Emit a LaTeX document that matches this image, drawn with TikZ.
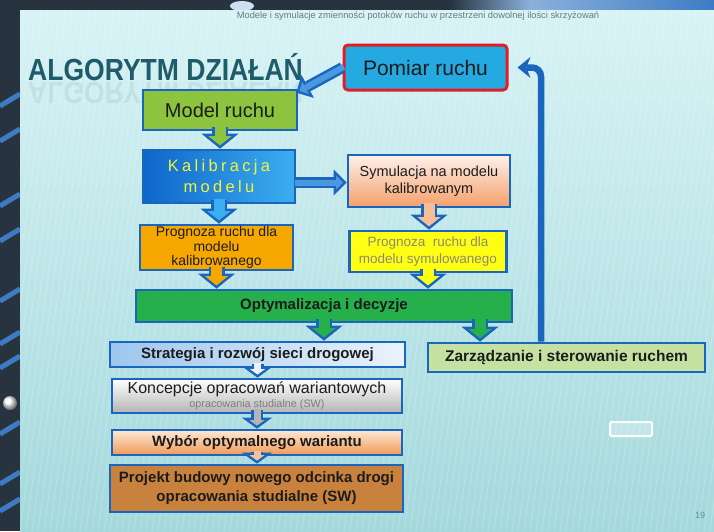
\documentclass[tikz,border=0pt]{standalone}
\usepackage{fontspec}
\setmainfont{Liberation Sans}
\newfontfamily\titlefont[FakeStretch=0.87]{Liberation Sans}
\usetikzlibrary{arrows.meta}

\definecolor{frame}{HTML}{27333F}
\definecolor{streak}{HTML}{3D7CC4}
\definecolor{slidetop}{HTML}{D8F3F5}
\definecolor{slidebot}{HTML}{A4D9DC}
\definecolor{boxblue}{HTML}{1A66BE}
\definecolor{ink}{HTML}{1C1C1C}
\definecolor{titleteal}{HTML}{1F5B6B}
\definecolor{headgray}{HTML}{687A80}
\definecolor{pomiarfill}{HTML}{25A9E1}
\definecolor{pomiarred}{HTML}{E01E26}
\definecolor{modelgreen}{HTML}{8CC43F}
\definecolor{kalA}{HTML}{0E66CA}
\definecolor{kalB}{HTML}{3CAEF0}
\definecolor{kaltext}{HTML}{F2F23C}
\definecolor{symtop}{HTML}{FDF0EA}
\definecolor{symbot}{HTML}{F5A06A}
\definecolor{progorange}{HTML}{F6A800}
\definecolor{progyellow}{HTML}{FFFF14}
\definecolor{proggray}{HTML}{8A8A6E}
\definecolor{optgreen}{HTML}{25B04B}
\definecolor{stratA}{HTML}{9EC6EE}
\definecolor{stratB}{HTML}{EAF3FB}
\definecolor{zarzgreen}{HTML}{C5E2A2}
\definecolor{konctop}{HTML}{FFFFFF}
\definecolor{koncbot}{HTML}{B4B4B4}
\definecolor{subgray}{HTML}{7E7E7E}
\definecolor{wybtop}{HTML}{FDE8D6}
\definecolor{wybbot}{HTML}{F09A55}
\definecolor{projbrown}{HTML}{C8823E}
\definecolor{pipeblue}{HTML}{4A98E0}

% outlined block arrow: blue body, coloured core
\newcommand\blockarrow[4][bigarrow]{%
  \draw[#1, draw=boxblue] #3 -- #4;
  \draw[#1fill, draw=#2] #3 -- #4;}

\begin{document}
\begin{tikzpicture}[x=1pt, y=-1pt,
    box/.style={draw=boxblue, line width=2.6pt, inner sep=0pt, align=center, text=ink},
    boldtext/.style={font=\fontsize{15}{19}\selectfont\bfseries},
    bigarrow/.style={line width=16pt, -{Triangle[length=15pt,width=37pt,line width=0pt]}},
    bigarrowfill/.style={line width=11pt, shorten >=3.3pt, shorten <=-1.5pt,
      -{Triangle[length=9.2pt,width=23pt,line width=0pt]}},
    smallarrow/.style={line width=12pt, -{Triangle[length=11pt,width=30pt,line width=0pt]}},
    smallarrowfill/.style={line width=7pt, shorten >=3.1pt, shorten <=-1.5pt,
      -{Triangle[length=5.4pt,width=14.8pt,line width=0pt]}},
    flatarrow/.style={line width=11pt, -{Triangle[length=13pt,width=26pt,line width=0pt]}},
    flatarrowfill/.style={line width=6pt, shorten >=3.5pt, shorten <=-1.5pt,
      -{Triangle[length=7pt,width=14pt,line width=0pt]}},
    backline/.style={line width=6.5pt, draw=boxblue, rounded corners=9pt, shorten >=9pt,
      -{Stealth[length=13pt,width=21pt,line width=0pt]}}]
  \useasboundingbox (0,0) rectangle (714,531);

  % dark frame and slide
  \fill[frame] (0,0) rectangle (714,531);
  \shade[left color=frame, right color=streak!60!white] (450,0) rectangle (530,10);
  \shade[left color=streak!60!white, right color=streak] (530,0) rectangle (714,10);
  \fill[white!75!streak] (242,6) ellipse (12pt and 5pt);
  \begin{scope}
    \clip (0,0) rectangle (20,531);
    \foreach \y in {100,135,200,235,295,338,362,428,478,505}
      \draw[streak, line width=5pt] (0,\y+6) -- (20,\y-6);
  \end{scope}
  \shade[ball color=white] (10,403) circle (7pt);
  \shade[top color=slidetop, bottom color=slidebot] (20,10) rectangle (714,531);
  \begin{scope}
    \clip (20,10) rectangle (714,531);
    \foreach \x in {-220,-214,...,714}
      \draw[white, opacity=.22, line width=.8pt] (\x,531) -- (\x+70,10);
  \end{scope}

  % heading
  \node[font=\fontsize{9.3}{10}\selectfont, text=headgray] (header) at (418,16)
    {Modele i symulacje zmienności potoków ruchu w przestrzeni dowolnej ilości skrzyżowań};
  \node[font=\titlefont\fontsize{30.5}{32}\selectfont\bfseries, text=titleteal, anchor=base west,
    inner sep=0pt] (title) at (28,80) {ALGORYTM DZIAŁAŃ};
  \node[font=\titlefont\fontsize{30.5}{32}\selectfont\bfseries, text=titleteal, text opacity=.09,
    anchor=base west, inner sep=0pt, yscale=-1, transform shape] (titlemirror) at (28,82)
    {ALGORYTM DZIAŁAŃ};

  % boxes
  \node[box, draw=pomiarred, line width=3pt, rounded corners=4pt, fill=pomiarfill,
    minimum width=163pt, minimum height=45pt, font=\fontsize{21}{24}\selectfont] (pomiar)
    at (425.5,67.5) {Pomiar ruchu};
  \node[box, fill=modelgreen, minimum width=154pt, minimum height=40pt,
    font=\fontsize{20}{24}\selectfont] (model) at (220,110) {Model ruchu};
  \node[box, left color=kalA, right color=kalB, minimum width=152pt, minimum height=53pt,
    text=kaltext, font=\fontsize{16.5}{21}\selectfont\addfontfeatures{LetterSpace=20}] (kal)
    at (219,176.5) {Kalibracja\\modelu};
  \node[box, top color=symtop, bottom color=symbot, minimum width=162pt, minimum height=52pt,
    font=\fontsize{14.5}{17}\selectfont] (sym) at (429,181) {Symulacja na modelu\\kalibrowanym};
  \node[box, fill=progorange, minimum width=153pt, minimum height=45pt,
    font=\fontsize{14}{14.5}\selectfont] (progkal) at (216.5,247.5)
    {Prognoza ruchu dla\\modelu\\kalibrowanego};
  \node[box, fill=progyellow, minimum width=157pt, minimum height=41pt, text=proggray,
    font=\fontsize{13.5}{17}\selectfont] (progsym) at (428,251.5)
    {Prognoza~ ruchu dla\\modelu symulowanego};
  \node[box, boldtext, fill=optgreen, minimum width=376pt, minimum height=32pt] (opt)
    at (324,306) {Optymalizacja i decyzje};
  \node[box, boldtext, left color=stratA, right color=stratB, minimum width=295pt,
    minimum height=25pt] (strat) at (257.5,354.5) {Strategia i rozwój sieci drogowej};
  \node[box, boldtext, font=\fontsize{15.5}{19}\selectfont\bfseries, fill=zarzgreen,
    minimum width=277pt, minimum height=29pt] (zarz) at (566.5,357.5)
    {Zarządzanie i sterowanie ruchem};
  \node[box, top color=konctop, bottom color=koncbot, minimum width=290pt, minimum height=34pt,
    font=\fontsize{16}{14}\selectfont] (konc) at (257,396)
    {Koncepcje opracowań wariantowych\\{\fontsize{10.8}{12}\selectfont\color{subgray}opracowania studialne (SW)}};
  \node[box, boldtext, top color=wybtop, bottom color=wybbot, minimum width=290pt,
    minimum height=25pt] (wybor) at (257,442.5) {Wybór optymalnego wariantu};
  \node[box, boldtext, fill=projbrown, minimum width=293pt, minimum height=47pt] (projekt)
    at (256.5,488.5) {Projekt budowy nowego odcinka drogi\\opracowania studialne (SW)};

  % connectors
  \blockarrow[flatarrow]{pipeblue}{(pomiar.west)}{([xshift=-2pt,yshift=-4pt]model.north east)}
  \blockarrow{modelgreen}{([yshift=4pt]model.south)}{(model.south |- kal.north)}
  \blockarrow[flatarrow]{pipeblue}{([yshift=-6pt]kal.east)}{([yshift=-6pt]kal.east -| sym.west)}
  \blockarrow{kalB}{([yshift=4pt]kal.south)}{(kal.south |- progkal.north)}
  \blockarrow{symbot!70!white}{([yshift=4pt]sym.south)}{(sym.south |- progsym.north)}
  \blockarrow{progorange}{([yshift=4pt]progkal.south)}{(progkal.south |- opt.north)}
  \blockarrow{progyellow}{([yshift=4pt]progsym.south)}{(progsym.south |- opt.north)}
  \blockarrow{optgreen}{([yshift=4pt]opt.south)}{(opt.south |- strat.north)}
  \blockarrow{optgreen}{([xshift=156pt,yshift=4pt]opt.south)}{([xshift=156pt]opt.south |- zarz.north)}
  \blockarrow[smallarrow]{stratB}{([yshift=4pt]strat.south)}{(strat.south |- konc.north)}
  \blockarrow[smallarrow]{koncbot}{([yshift=4pt]konc.south)}{(konc.south |- wybor.north)}
  \blockarrow[smallarrow]{wybbot!60!white}{([yshift=4pt]wybor.south)}{(wybor.south |- projekt.north)}
  \draw[backline] ([xshift=-25.5pt]zarz.north) |- (pomiar.east);

  % slide furniture
  \draw[white, line width=2pt, rounded corners=1.5pt, fill=white, fill opacity=.25]
    (610,422) rectangle (652,436);
  \node[font=\fontsize{9}{10}\selectfont, text=headgray!80!cyan] (pagenum) at (700,515) {19};
\end{tikzpicture}
\end{document}
